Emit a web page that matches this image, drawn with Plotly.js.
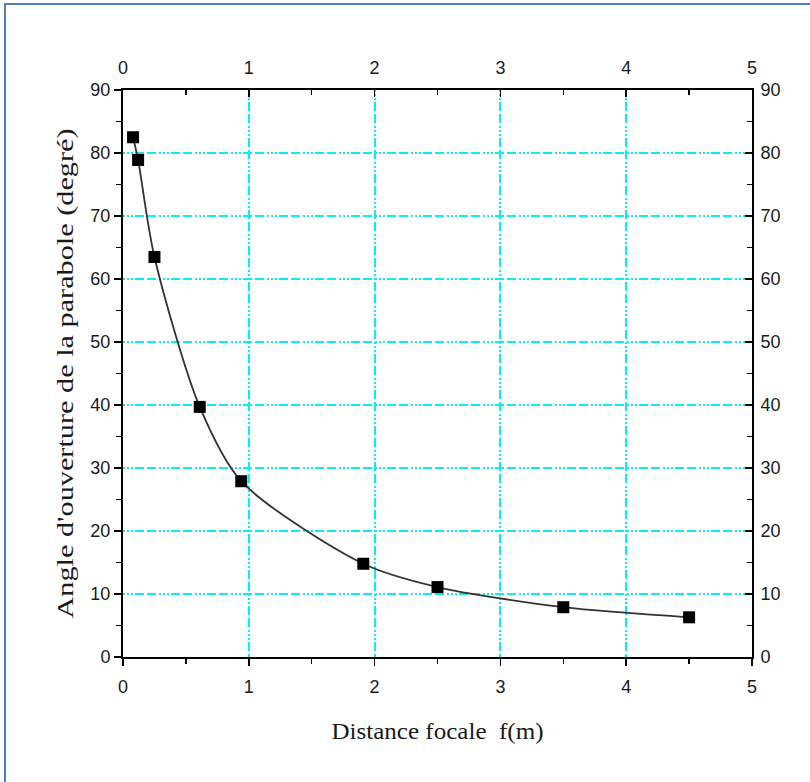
<!DOCTYPE html>
<html>
<head>
<meta charset="utf-8">
<script src="https://cdn.plot.ly/plotly-3.0.1.min.js"></script>
<style>
  body { margin: 0; background: #fff; }
  #wrap { position: relative; width: 810px; height: 782px; overflow: hidden; }
  #chart { width: 810px; height: 782px; }
  #frame { position: absolute; left: 4px; top: 3px; width: 900px; height: 900px;
           border-left: 2px solid #4f81bd; border-top: 2px solid #4f81bd; pointer-events: none; }
</style>
</head>
<body>
<div id="wrap"><div id="chart"></div><div id="frame"></div></div>
<script>
// Focal distance f (m) and parabola opening angle (degrees)
const focal = [0.08, 0.12, 0.25, 0.61, 0.94, 1.91, 2.5, 3.5, 4.5];
const angle = [82.5, 78.9, 63.5, 39.7, 27.9, 14.8, 11.1, 7.9, 6.3];

const xTitle = 'Distance focale&nbsp; f(m)';
const yTitle = "Angle d'ouverture de la parabole (degré)";

const tickFont = { family: '"Liberation Sans Narrow", "Liberation Sans", Arial, sans-serif', size: 18, color: '#1a1a1a' };
const titleFont = { family: '"Liberation Serif", "Times New Roman", serif', size: 24, color: '#1a1a1a' };
const gridDash = '2px,2px,2px,2px,2px,2px,9px,3px,9px,3px';

const traces = [
  {
    x: focal, y: angle, type: 'scatter', mode: 'lines',
    line: { color: '#333333', width: 1.8, shape: 'spline', smoothing: 0.8 },
    hoverinfo: 'skip', showlegend: false
  },
  {
    x: focal, y: angle, type: 'scatter', mode: 'markers',
    marker: { symbol: 'square', size: 12, color: '#000000' },
    showlegend: false
  },
  {
    x: focal, y: angle, type: 'scatter', mode: 'lines', xaxis: 'x2', yaxis: 'y2',
    line: { width: 0 }, hoverinfo: 'skip', showlegend: false
  }
];

const common = {
  showline: true, linecolor: '#000', linewidth: 2, zeroline: false,
  tickfont: tickFont, tickcolor: '#000', tickwidth: 1.5
};

const layout = {
  width: 810, height: 782,
  margin: { l: 123, r: 58, t: 90, b: 125 },
  paper_bgcolor: '#ffffff', plot_bgcolor: '#ffffff',
  xaxis: Object.assign({}, common, {
    range: [0, 5], dtick: 1, tick0: 0, ticks: 'outside', ticklen: 7, ticklabelstandoff: 5,
    showgrid: true, gridcolor: '#00f2f2', gridwidth: 2, griddash: gridDash,
    minor: { dtick: 0.5, ticks: 'outside', ticklen: 5, tickcolor: '#000', tickwidth: 1.5, showgrid: false },
    title: { text: xTitle, font: titleFont, standoff: 27 },
    automargin: false
  }),
  yaxis: Object.assign({}, common, {
    range: [0, 90], dtick: 10, tick0: 0, ticks: 'outside', ticklen: 7,
    showgrid: true, gridcolor: '#00f2f2', gridwidth: 2, griddash: gridDash,
    minor: { dtick: 5, ticks: 'outside', ticklen: 5, tickcolor: '#000', tickwidth: 1.5, showgrid: false },
    title: { text: yTitle, font: titleFont, standoff: 10 },
    automargin: false
  }),
  xaxis2: Object.assign({}, common, {
    overlaying: 'x', side: 'top', anchor: 'y2',
    range: [0, 5], dtick: 1, tick0: 0, ticks: 'inside', ticklen: 7, ticklabelstandoff: 7,
    minor: { dtick: 0.5, ticks: 'inside', ticklen: 5, tickcolor: '#000', tickwidth: 1.5 },
    showgrid: false, automargin: false
  }),
  yaxis2: Object.assign({}, common, {
    overlaying: 'y', side: 'right', anchor: 'x2',
    range: [0, 90], dtick: 10, tick0: 0, ticks: 'inside', ticklen: 7, ticklabelstandoff: 3,
    minor: { dtick: 5, ticks: 'inside', ticklen: 5, tickcolor: '#000', tickwidth: 1.5 },
    showgrid: false, automargin: false
  })
};

Plotly.newPlot('chart', traces, layout, { displayModeBar: false, staticPlot: true }).then(function (gd) {
  // the reference titles are typeset slightly stretched; match their extent
  const yt = gd.querySelector('.ytitle');
  if (yt) { yt.setAttribute('textLength', '490'); yt.setAttribute('lengthAdjust', 'spacingAndGlyphs'); }
  const xt = gd.querySelector('.xtitle');
  if (xt) { xt.setAttribute('textLength', '212'); xt.setAttribute('lengthAdjust', 'spacingAndGlyphs'); }
});
</script>
</body>
</html>
